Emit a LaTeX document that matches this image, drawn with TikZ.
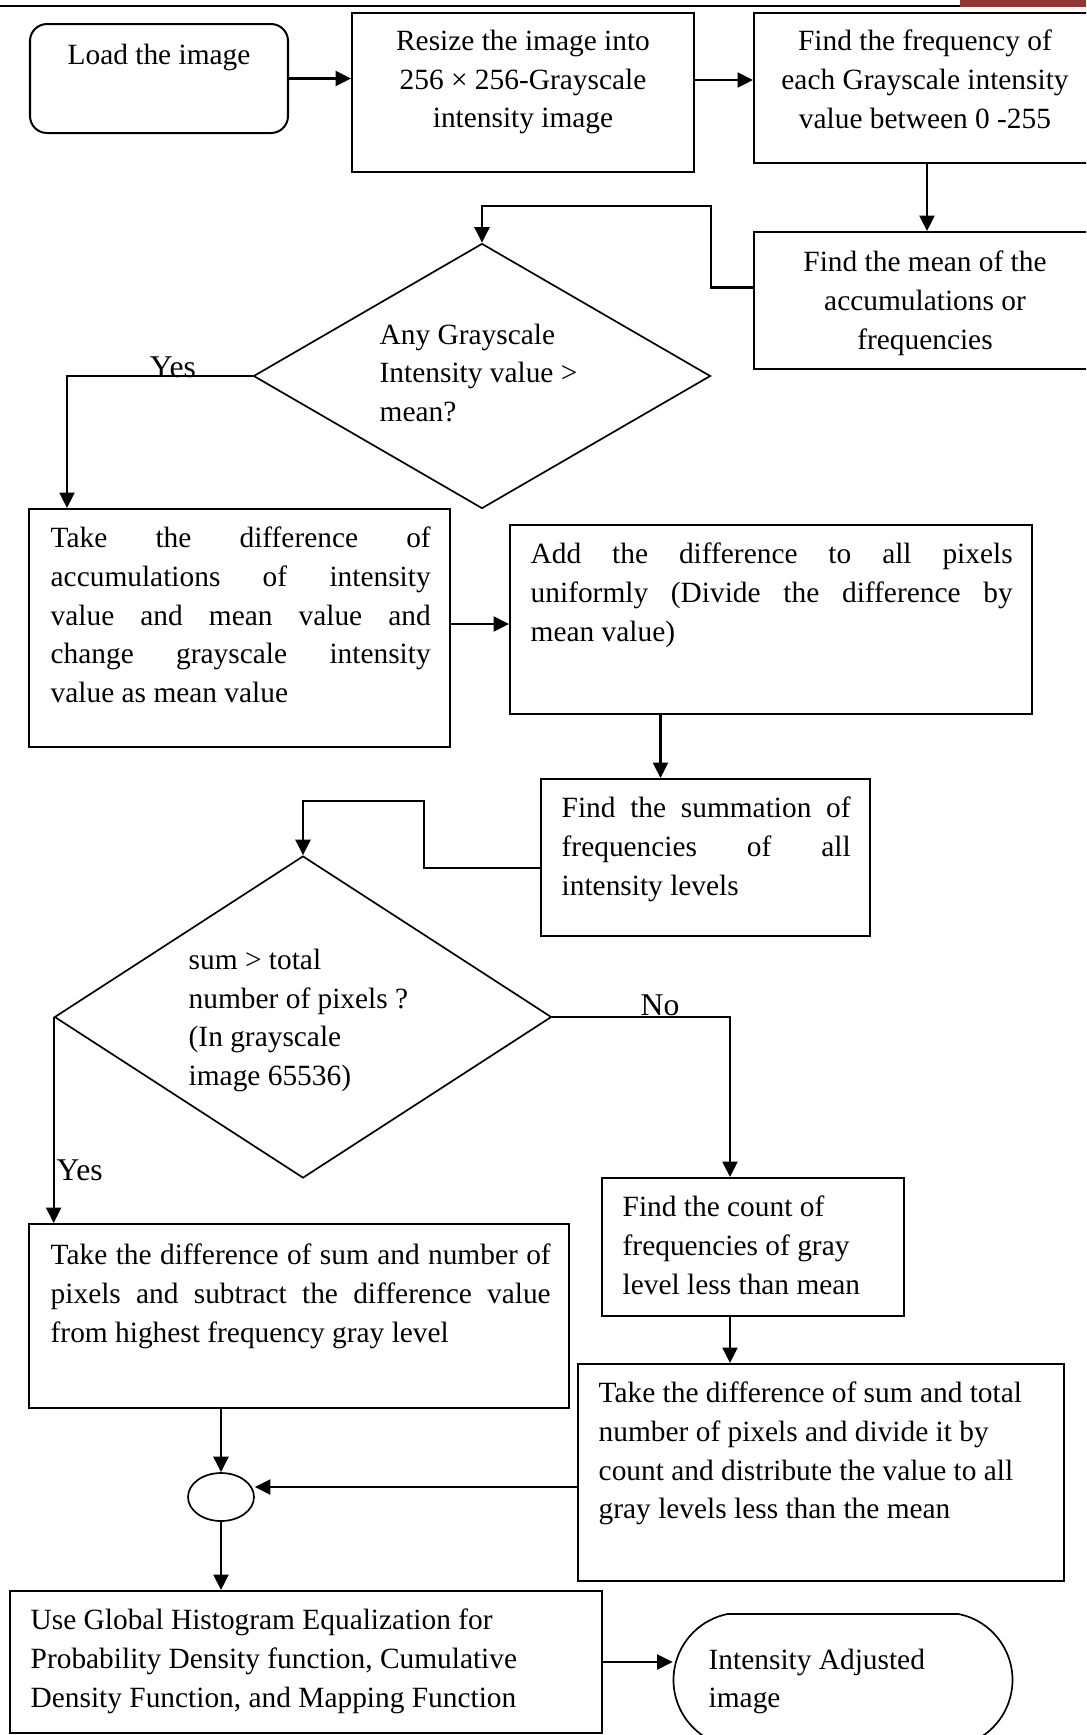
\documentclass[tikz,border=0pt]{standalone}
\usepackage{fontspec}
\setmainfont{Liberation Serif}
\usepackage{xcolor}
\usetikzlibrary{arrows.meta, shapes.geometric, shapes.misc, fit}
\definecolor{headred}{HTML}{943634}
\tikzset{
	proc/.style={draw, line width=0.57pt, inner sep=0pt},
	dec/.style={diamond, draw, line width=0.48pt, inner sep=0pt},
	txt/.style={inner sep=0pt, font=\fontsize{8.36}{11}\selectfont},
	lbl/.style={inner sep=0pt, font=\fontsize{9}{11}\selectfont},
	arr/.style={line width=0.65pt, -{Triangle[length=1.55mm, width=1.5mm]}}
}

\begin{document}
\begin{tikzpicture}[x=0.1mm, y=-0.1mm]
			\useasboundingbox (0,0) rectangle (1086,1735);
			\clip (0,0) rectangle (1086,1735);

			% Header rule of the page
			\draw[line width=0.6pt] (0,5.7) -- (960,5.7);
			\fill[headred] (960,0) rectangle (1086,6.7);

			% First row of boxes
			\node[proc, rounded corners=1.7mm, fit={(30,24) (288,133)}] (load) {};
			\node[proc, fit={(352,13) (694,172)}] (resize) {};
			\node[proc, fit={(754,13) (1100,163)}] (freq) {};
			\node[proc, fit={(754,232) (1100,369)}] (mean) {};
			\node[txt, anchor=north] (loadtxt) at (159,43.5) {Load the image};
			\node[txt, anchor=north, align=center] (resizetxt) at (523,29.5) {Resize the image into\\256 × 256-Grayscale\\intensity image};
			\node[txt, anchor=north, align=center] (freqtxt) at (925,29.5) {Find the frequency of\\each Grayscale intensity\\value between 0 -255};
			\node[txt, anchor=north, align=center] (meantxt) at (925,250.5) {Find the mean of the\\accumulations or\\frequencies};

			% First decision
			\node[dec, minimum width=4.57cm, minimum height=2.65cm] (dec1) at (482,376) {};
			\node[txt, anchor=north west, align=left] (dec1txt) at (379,323) {Any Grayscale\\Intensity value >\\mean?};

			% Mean correction
			\node[proc, fit={(29,509) (450,747)}] (take1) {};
			\node[proc, fit={(510,525) (1032,714)}] (add) {};
			\node[proc, fit={(541,779) (870,936)}] (sum) {};
			\node[txt, anchor=north west, text width=3.8cm, align=justify] (take1txt) at (50,526.5) {Take the difference of\linebreak accumulations of intensity\linebreak value and mean value and\linebreak change grayscale intensity\linebreak value as mean value};
			\node[txt, anchor=north west, text width=4.82cm, align=justify] (addtxt) at (530,542.5) {Add the difference to all pixels\linebreak uniformly (Divide the difference by\linebreak mean value)};
			\node[txt, anchor=north west, text width=2.89cm, align=justify] (sumtxt) at (561,796.5) {Find the summation of\linebreak frequencies of all\linebreak intensity levels};

			% Second decision
			\node[dec, minimum width=4.97cm, minimum height=3.22cm] (dec2) at (303,1017) {};
			\node[txt, anchor=north west, align=left] (dec2txt) at (188,948.5) {sum > total\\number of pixels ?\\(In grayscale\\image 65536)};

			% Both branches
			\node[proc, fit={(602,1178) (904,1316)}] (count) {};
			\node[proc, fit={(29,1224) (569,1408)}] (take2) {};
			\node[proc, fit={(578,1364) (1064,1581)}] (take3) {};
			\node[txt, anchor=north west, align=left] (counttxt) at (622,1195.5) {Find the count of\\frequencies of gray\\level less than mean};
			\node[txt, anchor=north west, text width=5cm, align=justify] (take2txt) at (50,1243.5) {Take the difference of sum and number of\linebreak pixels and subtract the difference value\linebreak from highest frequency gray level};
			\node[txt, anchor=north west, align=left] (take3txt) at (598,1381.5) {Take the difference of sum and total\\number of pixels and divide it by\\count and distribute the value to all\\gray levels less than the mean};

			% Join and output
			\node[ellipse, draw, line width=0.48pt, inner sep=0pt, minimum width=0.66cm, minimum height=0.48cm] (merge) at (221,1497) {};
			\node[proc, fit={(10,1591) (602,1733)}] (use) {};
			\node[rounded rectangle, rounded rectangle arc length=157, draw, line width=0.48pt, inner sep=0pt, minimum width=3.39cm, minimum height=1.32cm] (out) at (843,1680) {};
			\node[txt, anchor=north west, align=left] (usetxt) at (30,1608.5) {Use Global Histogram Equalization for\\Probability Density function, Cumulative\\Density Function, and Mapping Function};
			\node[txt, anchor=north west, align=left] (outtxt) at (708,1648) {Intensity Adjusted\\image};

			% Branch labels
			\node[lbl, anchor=base] (yes1) at (173,377) {Yes};
			\node[lbl, anchor=base west] (yes2) at (56,1180) {Yes};
			\node[lbl, anchor=base] (no) at (660,1015) {No};

			% Arrows
			\draw[arr] (load.east) -- (load.east -| resize.west);
			\draw[arr] ([yshift=1.25mm]resize.east) -- ([yshift=1.25mm]resize.east -| freq.west);
			\draw[arr] (freq.south) -- (mean.north);
			\draw[arr] ([yshift=1.3mm]mean.west) -- ++(-42,0) |- ([yshift=3.7mm]dec1.north) -- (dec1.north);
			\draw[arr] (dec1.west) -| ([xshift=3.9mm]take1.north west);
			\draw[arr] ([yshift=0.4mm]take1.east) -- ([yshift=0.4mm]take1.east -| add.west);
			\draw[arr] ([xshift=-4.5mm]sum.north |- add.south) -- ([xshift=-4.5mm]sum.north);
			\draw[arr] ([yshift=-1.05mm]sum.west) -- ++(-116,0) |- ([yshift=5.4mm]dec2.north) -- (dec2.north);
			\draw[arr] (dec2.west) -- (dec2.west |- take2.north);
			\draw[arr] (dec2.east) -| ([xshift=-2.3mm]count.north);
			\draw[arr] ([xshift=-2.3mm]count.south) -- ([xshift=-2.3mm]count.south |- take3.north);
			\draw[arr] (merge |- take2.south) -- (merge.north);
			\draw[arr] ([yshift=1mm]merge.east -| take3.west) -- ([yshift=1mm]merge.east);
			\draw[arr] (merge.south) -- (merge.south |- use.north);
			\draw[arr] (use.east) -- (use.east -| out.west);
		\end{tikzpicture}
\end{document}
